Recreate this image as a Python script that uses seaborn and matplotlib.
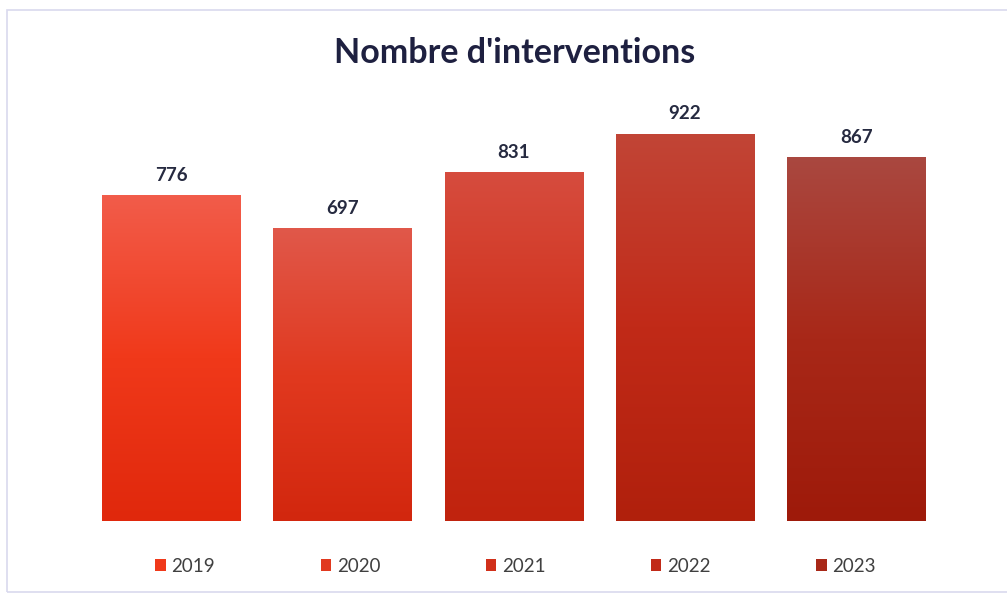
import numpy as np
import matplotlib.pyplot as plt
import seaborn as sns
from matplotlib.colors import LinearSegmentedColormap
from matplotlib.patches import Patch, Rectangle

# Data
years = ['2019', '2020', '2021', '2022', '2023']
interventions = [776, 697, 831, 922, 867]

# Gradient colours per bar (top, middle, bottom)
top_colors = ['#F25C4A', '#E0584A', '#D64C3E', '#C24536', '#AA4840']
mid_colors = ['#F0391A', '#E1391F', '#D1301A', '#C12A18', '#A82818']
bottom_colors = ['#E0280C', '#D2270E', '#C0230E', '#B0200C', '#9E1A0A']

sns.set_theme(style='white')
plt.rcParams['font.family'] = ['Lato', 'DejaVu Sans']

fig = plt.figure(figsize=(10.07, 5.94), dpi=100)
ax = fig.add_axes([0.0848, 0.1229, 0.8505, 0.707])

sns.barplot(x=years, y=interventions, hue=years, palette=mid_colors,
            legend=False, width=0.806, saturation=1, ax=ax)

# gradient fill inside each bar
for patch, c_top, c_mid, c_bot in zip(ax.patches, top_colors, mid_colors, bottom_colors):
    cmap = LinearSegmentedColormap.from_list('g', [(0, c_bot), (0.5, c_mid), (1, c_top)])
    x0, y0 = patch.get_x(), patch.get_y()
    w, h = patch.get_width(), patch.get_height()
    grad = np.linspace(0, 1, 256).reshape(-1, 1)
    im = ax.imshow(grad, cmap=cmap, origin='lower', aspect='auto',
                   extent=[x0, x0 + w, y0, y0 + h], zorder=patch.get_zorder() + 0.1)
    im.set_clip_path(patch)
    patch.set_edgecolor('none')

ax.set_xlim(-0.5, 4.5)
ax.set_ylim(0, 1000)
ax.set_axis_off()

# value labels
for i, v in enumerate(interventions):
    ax.text(i, v + 27, str(v), ha='center', va='bottom', fontsize=13.5,
            fontweight='bold', color='#262A40')

fig.text(0.511, 0.91, "Nombre d'interventions", ha='center', va='center',
         fontsize=24.5, fontweight='bold', color='#1E2040')

handles = [Patch(facecolor=c, edgecolor='none') for c in mid_colors]
fig.legend(handles, years, loc='center', bbox_to_anchor=(0.512, 0.047), ncol=5,
           frameon=False, fontsize=13.5, handlelength=0.55, handleheight=0.55,
           handletextpad=0.3, columnspacing=5.64, labelcolor='#404040')

# light frame around the chart area
fig.patches.append(Rectangle((7 / 1007, 2 / 594), 1.1, 582 / 594, transform=fig.transFigure,
                             fill=False, edgecolor='#D9D9EE', linewidth=1.2))

fig.savefig('out.png', dpi=100)
